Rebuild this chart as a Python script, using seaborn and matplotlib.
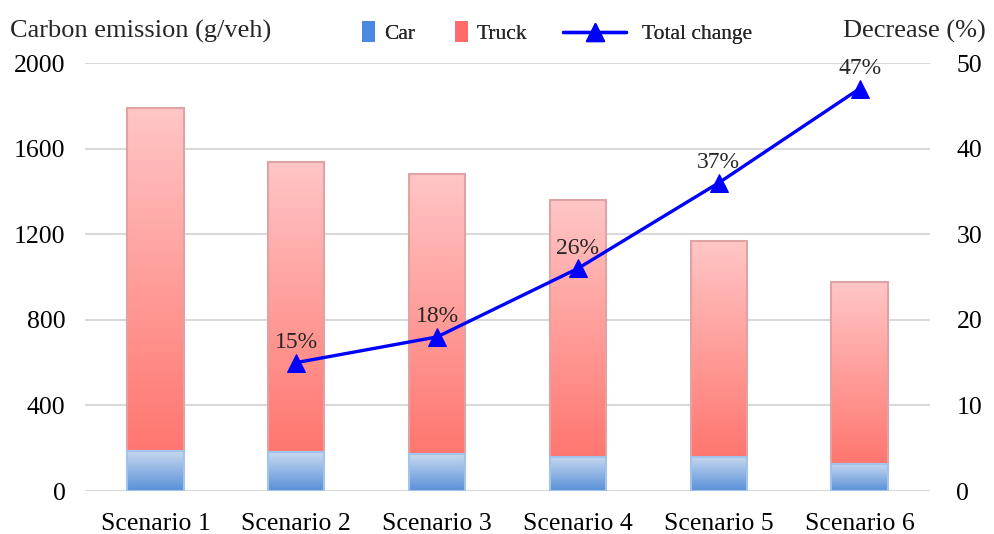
import matplotlib
matplotlib.use("Agg")
import matplotlib.pyplot as plt
import numpy as np
import seaborn as sns
from matplotlib.colors import LinearSegmentedColormap
from matplotlib.legend_handler import HandlerPatch
from matplotlib.lines import Line2D
from matplotlib.patches import Patch, Rectangle

# Data
scenarios = ["Scenario 1", "Scenario 2", "Scenario 3", "Scenario 4", "Scenario 5", "Scenario 6"]
car = [188, 181, 171, 161, 160, 127]
total = [1792, 1537, 1481, 1360, 1167, 977]
truck = [t - c for t, c in zip(total, car)]

line_scenarios = ["Scenario 2", "Scenario 3", "Scenario 4", "Scenario 5", "Scenario 6"]
decrease = [15, 18, 26, 36, 47]
decrease_labels = ["15%", "18%", "26%", "37%", "47%"]

# Colours
TRUCK_TOP, TRUCK_BOT, TRUCK_EDGE = "#ffc6c6", "#ff766f", "#e0a3a3"
CAR_TOP, CAR_BOT, CAR_EDGE = "#c8d9f0", "#5890d8", "#a3c4ea"
LINE_BLUE = "#0000ff"
GRID = "#d9d9d9"

sns.set_theme(style="white")
plt.rcParams["font.family"] = ["Liberation Serif", "DejaVu Serif"]

fig = plt.figure(figsize=(9.95, 5.34), dpi=100)
ax = fig.add_axes([85 / 995, 1 - 491 / 534, (930 - 85) / 995, (491 - 63) / 534])

# stacked bars: truck first (full height), then car over the bottom
sns.barplot(x=scenarios, y=total, color=TRUCK_BOT, width=0.4, ax=ax,
            edgecolor=TRUCK_EDGE, linewidth=1.5, zorder=2)
sns.barplot(x=scenarios, y=car, color=CAR_BOT, width=0.4, ax=ax,
            edgecolor=CAR_EDGE, linewidth=1.5, zorder=2)

truck_patches = ax.patches[:len(scenarios)]
car_patches = ax.patches[len(scenarios):]
for p, c, t in zip(truck_patches, car, truck):
    p.set_y(c)
    p.set_height(t)


def fill_gradient(patch, bottom_col, top_col):
    x0, y0 = patch.get_x(), patch.get_y()
    w, h = patch.get_width(), patch.get_height()
    cmap = LinearSegmentedColormap.from_list("g", [bottom_col, top_col])
    grad = np.linspace(0, 1, 256).reshape(-1, 1)
    ax.imshow(grad, cmap=cmap, extent=[x0, x0 + w, y0, y0 + h], origin="lower",
              aspect="auto", zorder=1.9, interpolation="bicubic")
    patch.set_facecolor("none")


for p in truck_patches:
    fill_gradient(p, TRUCK_BOT, TRUCK_TOP)
for p in car_patches:
    fill_gradient(p, CAR_BOT, CAR_TOP)

ax.set_xlim(-0.5, len(scenarios) - 0.5)
ax.set_ylim(0, 2000)
ax.set_yticks(np.arange(0, 2001, 400))
ax.yaxis.grid(True, color=GRID, linewidth=1.5, zorder=0)
ax.set_axisbelow(True)
for s in ax.spines.values():
    s.set_visible(False)
ax.tick_params(axis="y", length=0, pad=14, labelsize=18.5, colors="black")
ax.tick_params(axis="x", length=0, pad=16, labelsize=18.5, colors="black")
ax.set_xlabel("")
ax.set_ylabel("")

# secondary axis with the decrease line
ax2 = ax.twinx()
xs = [scenarios.index(s) for s in line_scenarios]
sns.lineplot(x=xs, y=decrease, ax=ax2, color=LINE_BLUE, linewidth=2.4,
             marker="^", markersize=13, markeredgecolor=LINE_BLUE, zorder=5)
for x, y, lab in zip(xs, decrease, decrease_labels):
    ax2.annotate(lab, (x, y), xytext=(0, 7), textcoords="offset points",
                 ha="center", va="bottom", fontsize=17, annotation_clip=False)
ax2.set_ylim(0, 50)
ax2.set_yticks(np.arange(0, 51, 10))
ax2.set_xlim(-0.5, len(scenarios) - 0.5)
ax2.grid(False)
for s in ax2.spines.values():
    s.set_visible(False)
ax2.tick_params(axis="y", length=0, pad=19, labelsize=18.5, colors="black")

# axis titles
fig.text(10 / 995, 1 - 31 / 534, "Carbon emission (g/veh)", fontsize=19,
         ha="left", va="center")
fig.text(986 / 995, 1 - 31 / 534, "Decrease (%)", fontsize=19,
         ha="right", va="center")


def narrow_patch(legend, orig_handle, xdescent, ydescent, width, height, fontsize):
    w, h = 0.6 * fontsize, 0.95 * fontsize
    return Rectangle((-xdescent + width - w, -ydescent + (height - h) / 2), w, h)


# legend entries placed one by one across the top
legend_items = [
    (Patch(facecolor="#4a88e2", edgecolor="none", label="Car"), 356, 0.6, 0.4),
    (Patch(facecolor="#ff6a6a", edgecolor="none", label="Truck"), 449, 0.6, 0.4),
    (Line2D([], [], color=LINE_BLUE, linewidth=2.4, marker="^", markersize=13,
            label="Total change"), 557, 2.9, 0.75),
]
for handle, x_px, hl, pad in legend_items:
    leg = fig.legend(handles=[handle], loc="center left",
                     bbox_to_anchor=(x_px / 995, 1 - 34 / 534), frameon=False,
                     fontsize=15.5, handlelength=hl, handletextpad=pad,
                     borderaxespad=0, borderpad=0.3,
                     handler_map={Patch: HandlerPatch(patch_func=narrow_patch)})
    fig.add_artist(leg)

fig.savefig("out.png", dpi=100)
